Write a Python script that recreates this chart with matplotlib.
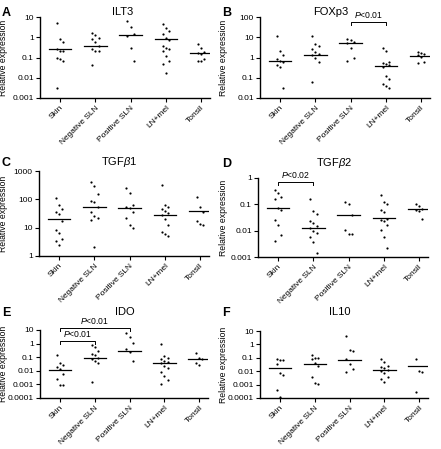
import matplotlib
matplotlib.use('Agg')
import matplotlib.pyplot as plt
import numpy as np

plt.rcParams['font.family'] = ['Liberation Sans', 'DejaVu Sans']
plt.rcParams['mathtext.fontset'] = 'custom'
plt.rcParams['mathtext.rm'] = 'Liberation Sans'
plt.rcParams['mathtext.it'] = 'Liberation Sans:italic'

groups = ['Skin', 'Negative SLN', 'Positive SLN', 'LN+mel', 'Tonsil']

# ILT3
ilt3 = [[5, 0.8, 0.6, 0.25, 0.22, 0.2, 0.1, 0.08, 0.065, 0.003],
        [1.6, 1.3, 0.9, 0.8, 0.6, 0.35, 0.25, 0.22, 0.2, 0.045],
        [6, 3.3, 1.5, 1.2, 0.3, 0.07],
        [4.5, 2.8, 2.0, 1.4, 0.9, 0.7, 0.35, 0.3, 0.25, 0.2, 0.12, 0.07, 0.05, 0.017],
        [0.45, 0.3, 0.18, 0.16, 0.15, 0.08, 0.07, 0.07]]
ilt3_med = [0.25, 0.35, 1.35, 0.8, 0.17]

# FOXp3
foxp3 = [[12, 2, 1.4, 0.8, 0.7, 0.6, 0.45, 0.35, 0.033],
         [11, 4.5, 3.7, 2.7, 1.8, 1.5, 1.3, 0.9, 0.6, 0.065],
         [8, 7, 6, 5, 3, 0.9, 0.7],
         [2.8, 2.0, 0.6, 0.55, 0.5, 0.45, 0.35, 0.12, 0.09, 0.05, 0.04, 0.033],
         [1.9, 1.7, 1.5, 1.3, 1.1, 0.6, 0.55]]
foxp3_med = [0.7, 1.4, 5.5, 0.4, 1.2]

# TGFb1
tgfb1 = [[110, 65, 45, 35, 30, 17, 8, 6.5, 4, 3.5, 2.5],
         [400, 300, 160, 90, 80, 55, 37, 26, 22, 18, 2],
         [260, 170, 65, 55, 48, 37, 22, 12, 10],
         [320, 65, 55, 45, 38, 33, 28, 21, 12, 7, 6, 5],
         [120, 52, 37, 17, 14, 12]]
tgfb1_med = [21, 52, 50, 27, 38]

# TGFb2
tgfb2 = [[0.34, 0.28, 0.19, 0.16, 0.075, 0.063, 0.026, 0.017, 0.0067, 0.004],
         [0.155, 0.054, 0.044, 0.023, 0.019, 0.015, 0.013, 0.01, 0.008, 0.0057, 0.0037, 0.0014],
         [0.12, 0.1, 0.04, 0.011, 0.0077, 0.0072],
         [0.22, 0.12, 0.1, 0.063, 0.05, 0.028, 0.026, 0.023, 0.016, 0.011, 0.006, 0.0022],
         [0.1, 0.085, 0.068, 0.063, 0.055, 0.027]]
tgfb2_med = [0.075, 0.013, 0.04, 0.029, 0.066]

# IDO
ido = [[0.14, 0.036, 0.027, 0.018, 0.014, 0.006, 0.0027, 0.00093, 0.00085],
       [0.8, 0.6, 0.28, 0.18, 0.14, 0.09, 0.07, 0.05, 0.037, 0.0014],
       [6, 3, 1.1, 0.4, 0.25, 0.05],
       [0.95, 0.12, 0.09, 0.07, 0.055, 0.045, 0.035, 0.021, 0.015, 0.008, 0.0045, 0.002, 0.001],
       [0.19, 0.09, 0.07, 0.04, 0.025]]
ido_med = [0.012, 0.087, 0.3, 0.035, 0.08]

# IL10
il10 = [[0.083, 0.07, 0.065, 0.032, 0.007, 0.0055, 0.0004, 0.00012],
        [0.16, 0.1, 0.09, 0.08, 0.04, 0.024, 0.0037, 0.0013, 0.0012],
        [4, 0.4, 0.35, 0.08, 0.032, 0.014, 0.009],
        [0.08, 0.05, 0.024, 0.019, 0.016, 0.013, 0.01, 0.007, 0.0037, 0.0025, 0.0015],
        [0.08, 0.011, 0.008, 0.0003]]
il10_med = [0.016, 0.032, 0.066, 0.012, 0.025]

# letter, title, data, medians, ylim, axes box (px: left, top, right, bottom), title x, title y
panels = [
    ('A', 'ILT3', ilt3, ilt3_med, (0.001, 10), [40, 17, 210, 98], 123, 12),
    ('B', 'FOXp3', foxp3, foxp3_med, (0.01, 100), [260, 17, 430, 98], 331, 12),
    ('C', r'TGF$\it{\beta}$1', tgfb1, tgfb1_med, (1, 1000), [39, 171, 209, 256], 119, 162),
    ('D', r'TGF$\it{\beta}$2', tgfb2, tgfb2_med, (0.001, 1), [258, 178, 428, 257], 334, 163),
    ('E', 'IDO', ido, ido_med, (0.0001, 10), [40, 330, 208, 398], 125, 312),
    ('F', 'IL10', il10, il10_med, (0.0001, 10), [260, 331, 428, 398], 340, 312),
]

W, H = 441, 449
fig = plt.figure(figsize=(W / 100, H / 100), dpi=100)

axes = {}
for letter, title, data, med, ylim, box, tx, ty in panels:
    l, t, r, b = box
    ax = fig.add_axes([l / W, 1 - b / H, (r - l) / W, (b - t) / H])
    axes[letter] = ax
    for i, vals in enumerate(data):
        # small side-by-side spread of the dots, like the original scatter
        off = np.array([((k % 3) - 1) * 0.09 for k in range(len(vals))])
        ax.scatter(i + off, vals, s=2.5, color='black', linewidths=0, zorder=3)
        ax.plot([i - 0.32, i + 0.32], [med[i], med[i]], color='black', lw=0.9, zorder=2)
    ax.set_yscale('log')
    lo, hi = ylim
    ax.set_yticks(10.0 ** np.arange(np.log10(lo), np.log10(hi) + 0.5))
    ax.set_ylim(lo, hi)
    ax.yaxis.set_minor_locator(matplotlib.ticker.NullLocator())
    ax.yaxis.set_major_formatter(matplotlib.ticker.FuncFormatter(lambda v, p: f'{v:g}'))
    ax.set_xlim(-0.57, 4.25)
    ax.set_xticks(range(len(groups)))
    ax.set_xticklabels(groups, rotation=45, ha='right', rotation_mode='anchor', fontsize=6)
    ax.tick_params(axis='both', labelsize=6, length=3, width=0.8, pad=1.5)
    ax.spines['top'].set_visible(False)
    ax.spines['right'].set_visible(False)
    ax.spines['left'].set_linewidth(1)
    ax.spines['bottom'].set_linewidth(1)
    ax.set_ylabel('Relative expression', fontsize=6.2)
    ax.yaxis.set_label_coords((8 + (0 if l < 200 else 220) - l) / (r - l), 0.5)
    fig.text(tx / W, 1 - ty / H, title, ha='center', va='center', fontsize=8)
    lx = 2 if l < 200 else 222
    fig.text(lx / W, 1 - (ty + 1) / H, letter, ha='left', va='center', fontsize=9, fontweight='bold')


def bracket(ax, x1, x2, ypix, text):
    # ypix: figure pixel row of the bracket line
    yf = 1 - ypix / H
    trans = matplotlib.transforms.blended_transform_factory(ax.transData, fig.transFigure)
    d = 3 / H
    ax.plot([x1, x1, x2, x2], [yf - d, yf, yf, yf - d], color='black', lw=0.7,
            transform=trans, clip_on=False)
    ax.text((x1 + x2) / 2, yf + 2 / H, text, ha='center', va='bottom', fontsize=6.2,
            transform=trans, clip_on=False)


bracket(axes['B'], 2, 3, 22, r'$P$<0.01')
bracket(axes['D'], 0, 1, 182, r'$P$<0.02')
bracket(axes['E'], 0, 1, 341, r'$P$<0.01')
bracket(axes['E'], 0, 2, 328, r'$P$<0.01')

plt.savefig('out.png', dpi=100)
